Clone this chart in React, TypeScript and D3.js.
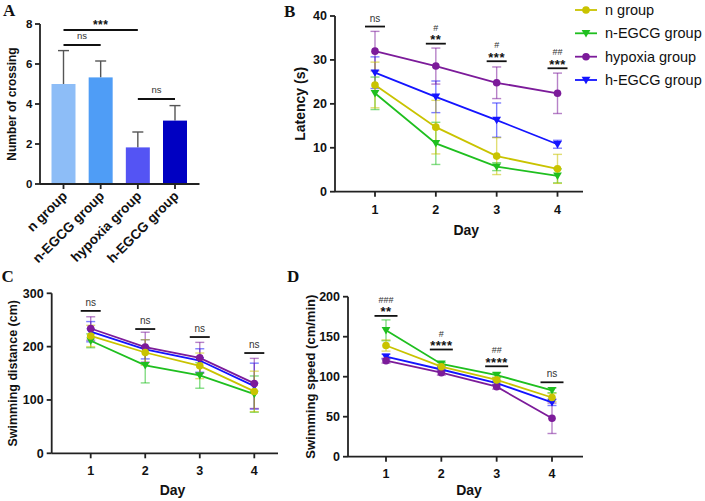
import React from "react";
import * as d3 from "d3";

const FONT = "'Liberation Sans', Arial, Helvetica, sans-serif";
const SERIF = "'Liberation Serif', 'Times New Roman', serif";

// Panel A data
const groupCategories = ["n group", "n-EGCG group", "hypoxia group", "h-EGCG group"];
const crossingMean = [5.0, 5.33, 1.83, 3.17];
const crossingSD = [1.67, 0.82, 0.77, 0.75];
const barColors = ["#8dbdf7", "#4f9df6", "#5454f4", "#0000c2"];
const crossingTicks = [0, 2, 4, 6, 8];

// Shared
const days = [1, 2, 3, 4];
const seriesNames = ["n group", "n-EGCG group", "hypoxia group", "h-EGCG group"];
const seriesColors = ["#c9c300", "#1fbf1f", "#7c1b9a", "#1414ff"];
const seriesShapes = ["circle", "triangle", "circle", "triangle"];

// Panel B: Latency (s)
const latencyN = [24.3, 14.7, 8.1, 5.2];
const latencyNErr = [5.2, 6.1, 4.2, 3.3];
const latencyNE = [22.4, 11.0, 5.7, 3.6];
const latencyNEErr = [3.7, 4.8, 0.9, 1.6];
const latencyH = [32.0, 28.6, 24.8, 22.4];
const latencyHErr = [4.5, 4.1, 3.6, 4.6];
const latencyHE = [27.1, 21.6, 16.3, 10.8];
const latencyHEErr = [3.6, 3.6, 3.9, 0.9];
const latencyTicks = [0, 10, 20, 30, 40];
const latencyStars = ["ns", "**", "***", "***"];
const latencyHash = ["", "#", "#", "##"];
const latencySigLevel = [37.6, 33.7, 29.7, 28.1];

// Panel C: Swimming distance (cm)
const distN = [220, 189, 164, 116];
const distNErr = [20, 24, 24, 38];
const distNE = [211, 165, 146, 111];
const distNEErr = [13, 33, 24, 34];
const distH = [234, 199, 179, 131];
const distHErr = [22, 28, 29, 47];
const distHE = [228, 195, 174, 126];
const distHEErr = [19, 18, 22, 43];
const distTicks = [0, 100, 200, 300];
const distStars = ["ns", "ns", "ns", "ns"];
const distHash = ["", "", "", ""];
const distSigLevel = [267, 233, 218, 188];

// Panel D: Swimming speed (cm/min)
const speedN = [139, 112.5, 96, 74];
const speedNErr = [7, 3, 3, 5];
const speedNE = [158, 116, 102, 83];
const speedNEErr = [13, 2, 3, 3];
const speedH = [120, 105, 87.5, 48];
const speedHErr = [3, 3, 3, 19];
const speedHE = [125, 109, 92, 68];
const speedHEErr = [3, 2, 2, 4];
const speedTicks = [0, 50, 100, 150, 200];
const speedStars = ["**", "****", "****", "ns"];
const speedHash = ["###", "#", "##", ""];
const speedSigLevel = [176, 134, 113, 93];

const AXIS = "#222";
const drawOrder = [1, 3, 2, 0];

type Series = { means: number[]; errs: number[] };

function Marker({ shape, x, y, color, size }: any) {
  if (shape === "circle") return <circle cx={x} cy={y} r={size} fill={color} />;
  const s = size * 1.15;
  const p = `${x - s},${y - s * 0.75} ${x + s},${y - s * 0.75} ${x},${y + s * 0.95}`;
  return <polygon points={p} fill={color} />;
}

function LinePanel(props: any) {
  const {
    xRange, axisX0, axisX1, yDomain, yRange, yTicks, series, stars, hashes, sigLevel,
    sigHalf, yLabel, yLabelX, yLabelSize, letter, letterX, letterY, dayY, tickLabelY,
  } = props;
  const x = d3.scaleLinear().domain([1, 4]).range(xRange);
  const y = d3.scaleLinear().domain(yDomain).range(yRange);
  const line = d3.line<number>().x((_, i) => x(days[i])).y((d) => y(d));
  const y0 = y(yDomain[0]);
  const yMid = (yRange[0] + yRange[1]) / 2;
  return (
    <g>
      <text x={letterX} y={letterY} fontFamily={SERIF} fontWeight="bold" fontSize={17} fill="#111">
        {letter}
      </text>
      {drawOrder.map((si) => {
        const s: Series = series[si];
        const c = seriesColors[si];
        return (
          <g key={"e" + si} stroke={c} strokeOpacity={0.55} strokeWidth={1.4}>
            {s.means.map((m, i) => {
              const cx = x(days[i]);
              const hi = y(m + s.errs[i]);
              const lo = y(Math.max(0, m - s.errs[i]));
              return (
                <g key={i}>
                  <line x1={cx} x2={cx} y1={hi} y2={lo} />
                  <line x1={cx - 4.5} x2={cx + 4.5} y1={hi} y2={hi} />
                  <line x1={cx - 4.5} x2={cx + 4.5} y1={lo} y2={lo} />
                </g>
              );
            })}
          </g>
        );
      })}
      {drawOrder.map((si) => {
        const s: Series = series[si];
        const c = seriesColors[si];
        return (
          <g key={"l" + si}>
            <path d={line(s.means) || ""} fill="none" stroke={c} strokeWidth={1.8} />
            {s.means.map((m, i) => (
              <Marker key={i} shape={seriesShapes[si]} x={x(days[i])} y={y(m)} color={c} size={3.8} />
            ))}
          </g>
        );
      })}
      {days.map((d, i) => {
        const cx = x(d);
        const ly = y(sigLevel[i]);
        const isNs = stars[i] === "ns";
        return (
          <g key={"s" + i}>
            <line x1={cx - sigHalf} x2={cx + sigHalf} y1={ly} y2={ly} stroke="#111" strokeWidth={1.8} />
            {isNs ? (
              <text x={cx} y={ly - 5} textAnchor="middle" fontFamily={FONT} fontSize={10} fill="#333">
                ns
              </text>
            ) : (
              <text x={cx} y={ly + 0.5} textAnchor="middle" fontFamily={FONT} fontSize={13} fontWeight="bold" letterSpacing={0.5} fill="#111">
                {stars[i]}
              </text>
            )}
            {hashes[i] && (
              <text x={cx} y={ly - 13} textAnchor="middle" fontFamily={FONT} fontSize={9} fill="#333">
                {hashes[i]}
              </text>
            )}
          </g>
        );
      })}
      <line x1={axisX0} x2={axisX0} y1={yRange[1]} y2={y0} stroke={AXIS} strokeWidth={1.8} />
      <line x1={axisX0} x2={axisX1} y1={y0} y2={y0} stroke={AXIS} strokeWidth={1.8} />
      {yTicks.map((t: number) => (
        <g key={"yt" + t}>
          <line x1={axisX0 - 5} x2={axisX0} y1={y(t)} y2={y(t)} stroke={AXIS} strokeWidth={1.8} />
          <text x={axisX0 - 8} y={y(t) + 4.3} textAnchor="end" fontFamily={FONT} fontWeight="bold" fontSize={12.5} fill="#111">
            {t}
          </text>
        </g>
      ))}
      {days.map((d) => (
        <g key={"xt" + d}>
          <line x1={x(d)} x2={x(d)} y1={y0} y2={y0 + 5} stroke={AXIS} strokeWidth={1.8} />
          <text x={x(d)} y={tickLabelY} textAnchor="middle" fontFamily={FONT} fontWeight="bold" fontSize={12.5} fill="#111">
            {d}
          </text>
        </g>
      ))}
      <text x={(x(1) + x(4)) / 2} y={dayY} textAnchor="middle" fontFamily={FONT} fontWeight="bold" fontSize={14} fill="#111">
        Day
      </text>
      <text
        transform={`translate(${yLabelX + yLabelSize * 0.36},${yMid}) rotate(-90)`}
        textAnchor="middle" fontFamily={FONT} fontWeight="bold" fontSize={yLabelSize} fill="#111"
      >
        {yLabel}
      </text>
    </g>
  );
}

function BarPanel() {
  const x = d3.scalePoint<string>().domain(groupCategories).range([63.5, 175]);
  const y = d3.scaleLinear().domain([0, 8]).range([184, 24]);
  const bw = 24;
  const y0 = y(0);
  const sig = (a: number, b: number, v: number, label: string, isNs: boolean) => {
    const x1 = x(groupCategories[a])!;
    const x2 = x(groupCategories[b])!;
    const ly = y(v);
    return (
      <g>
        <line x1={x1} x2={x2} y1={ly} y2={ly} stroke="#111" strokeWidth={1.8} />
        {isNs ? (
          <text x={(x1 + x2) / 2} y={ly - 6} textAnchor="middle" fontFamily={FONT} fontSize={9.5} fill="#333">{label}</text>
        ) : (
          <text x={(x1 + x2) / 2} y={ly - 1} textAnchor="middle" fontFamily={FONT} fontWeight="bold" fontSize={12} letterSpacing={0.5} fill="#111">{label}</text>
        )}
      </g>
    );
  };
  return (
    <g>
      <text x={3} y={15.5} fontFamily={SERIF} fontWeight="bold" fontSize={17} fill="#111">A</text>
      {groupCategories.map((c, i) => {
        const cx = x(c)!;
        const top = y(crossingMean[i]);
        const et = y(crossingMean[i] + crossingSD[i]);
        return (
          <g key={c}>
            <line x1={cx} x2={cx} y1={top} y2={et} stroke="#555" strokeWidth={1.4} />
            <line x1={cx - 5.5} x2={cx + 5.5} y1={et} y2={et} stroke="#555" strokeWidth={1.4} />
            <rect x={cx - bw / 2} y={top} width={bw} height={y0 - top} fill={barColors[i]} />
          </g>
        );
      })}
      {sig(0, 2, 7.7, "***", false)}
      {sig(0, 1, 6.95, "ns", true)}
      {sig(2, 3, 4.25, "ns", true)}
      <line x1={40} x2={40} y1={24} y2={y0} stroke={AXIS} strokeWidth={1.8} />
      <line x1={40} x2={199.5} y1={y0} y2={y0} stroke={AXIS} strokeWidth={1.8} />
      {crossingTicks.map((t) => (
        <g key={t}>
          <line x1={35} x2={40} y1={y(t)} y2={y(t)} stroke={AXIS} strokeWidth={1.8} />
          <text x={32.5} y={y(t) + 4} textAnchor="end" fontFamily={FONT} fontWeight="bold" fontSize={11.5} fill="#111">{t}</text>
        </g>
      ))}
      {groupCategories.map((c) => (
        <g key={"xl" + c}>
          <line x1={x(c)!} x2={x(c)!} y1={y0} y2={y0 + 5} stroke={AXIS} strokeWidth={1.8} />
          <text
            transform={`translate(${x(c)! + 4.5},${y0 + 13}) rotate(-45)`}
            textAnchor="end" fontFamily={FONT} fontWeight="bold" fontSize={13.5} fill="#111"
          >
            {c}
          </text>
        </g>
      ))}
      <text transform={`translate(${11.5 + 4.3},${104}) rotate(-90)`} textAnchor="middle" fontFamily={FONT} fontWeight="bold" fontSize={12} fill="#111">
        Number of crossing
      </text>
    </g>
  );
}

function Legend() {
  const rows = [10, 33.3, 56.7, 80];
  return (
    <g>
      {seriesNames.map((n, i) => (
        <g key={n}>
          <line x1={575} x2={597} y1={rows[i]} y2={rows[i]} stroke={seriesColors[i]} strokeWidth={1.8} />
          <Marker shape={seriesShapes[i]} x={586} y={rows[i]} color={seriesColors[i]} size={3.8} />
          <text x={605} y={rows[i] + 5} fontFamily={FONT} fontSize={14.5} fill="#111">{n}</text>
        </g>
      ))}
    </g>
  );
}

export default function App() {
  const latency: Series[] = [
    { means: latencyN, errs: latencyNErr },
    { means: latencyNE, errs: latencyNEErr },
    { means: latencyH, errs: latencyHErr },
    { means: latencyHE, errs: latencyHEErr },
  ];
  const dist: Series[] = [
    { means: distN, errs: distNErr },
    { means: distNE, errs: distNEErr },
    { means: distH, errs: distHErr },
    { means: distHE, errs: distHEErr },
  ];
  const speed: Series[] = [
    { means: speedN, errs: speedNErr },
    { means: speedNE, errs: speedNEErr },
    { means: speedH, errs: speedHErr },
    { means: speedHE, errs: speedHEErr },
  ];
  return (
    <svg width={705} height={501} style={{ position: "absolute", left: 0, top: 0, background: "#fff" }}>
      <rect width={705} height={501} fill="#fff" />
      <BarPanel />
      <LinePanel
        xRange={[375, 557.5]} axisX0={335} axisX1={583} yDomain={[0, 40]} yRange={[191.7, 16]}
        yTicks={latencyTicks} series={latency} stars={latencyStars} hashes={latencyHash}
        sigLevel={latencySigLevel} sigHalf={10} yLabel="Latency (s)" yLabelX={300} yLabelSize={14}
        letter="B" letterX={284} letterY={17} dayY={235} tickLabelY={213.5}
      />
      <Legend />
      <LinePanel
        xRange={[90.7, 254.3]} axisX0={51.7} axisX1={278} yDomain={[0, 300]} yRange={[453.3, 293.3]}
        yTicks={distTicks} series={dist} stars={distStars} hashes={distHash}
        sigLevel={distSigLevel} sigHalf={10} yLabel="Swimming distance (cm)" yLabelX={12} yLabelSize={12.5}
        letter="C" letterX={1.5} letterY={281.5} dayY={495} tickLabelY={475}
      />
      <LinePanel
        xRange={[386, 552]} axisX0={348} axisX1={583} yDomain={[0, 200]} yRange={[456.7, 296.7]}
        yTicks={speedTicks} series={speed} stars={speedStars} hashes={speedHash}
        sigLevel={speedSigLevel} sigHalf={11.5} yLabel="Swimming speed (cm/min)" yLabelX={310} yLabelSize={13}
        letter="D" letterX={287} letterY={281.5} dayY={495} tickLabelY={478}
      />
    </svg>
  );
}
